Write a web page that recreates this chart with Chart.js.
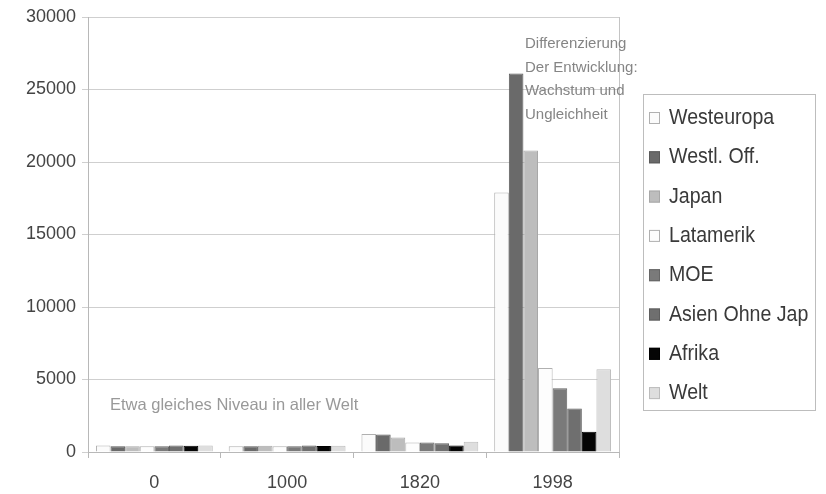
<!DOCTYPE html>
<html>
<head>
<meta charset="utf-8">
<script src="https://cdn.jsdelivr.net/npm/chart.js@4.4.1/dist/chart.umd.min.js"></script>
<style>
  body { margin: 0; background: #ffffff; }
  #wrap { width: 826px; height: 494px; position: relative; }
</style>
</head>
<body>
<div id="wrap"><canvas id="myChart" width="826" height="494"></canvas></div>
<script>
// categories (years)
const years = ['0', '1000', '1820', '1998'];

// series values (BIP pro Kopf)
const westeuropa = [450, 400, 1250, 17900];
const westlOff   = [400, 400, 1200, 26100];
const japan      = [400, 425, 1000, 20800];
const latamerik  = [400, 400, 650, 5800];
const moe        = [400, 400, 650, 4400];
const asien      = [450, 450, 600, 3000];
const afrika     = [430, 420, 450, 1400];
const welt       = [445, 435, 700, 5700];

const seriesNames = ['Westeuropa', 'Westl. Off.', 'Japan', 'Latamerik', 'MOE', 'Asien Ohne Jap', 'Afrika', 'Welt'];
const seriesData = [westeuropa, westlOff, japan, latamerik, moe, asien, afrika, welt];
const seriesColors = ['#fbfbfb', '#6a6a6a', '#bdbdbd', '#fdfdfd', '#7a7a7a', '#6f6f6f', '#050505', '#dedede'];
const seriesBorders = ['#b0b0b0', '#5a5a5a', '#a8a8a8', '#b0b0b0', '#666666', '#5e5e5e', '#000000', '#bcbcbc'];

// y axis ticks
const yMin = 0;
const yMax = 30000;
const yStep = 5000;

// text notes on the chart
const noteRight = ['Differenzierung', 'Der Entwicklung:', 'Wachstum und', 'Ungleichheit'];
const noteLeft = 'Etwa gleiches Niveau in aller Welt';

const plainFont = "'Liberation Sans', Arial, sans-serif";

const datasets = [];
for (let i = 0; i < seriesNames.length; i++) {
    datasets.push({
        label: seriesNames[i],
        data: seriesData[i],
        backgroundColor: seriesColors[i],
        borderColor: seriesBorders[i],
        borderWidth: 1
    });
}

// draws the plot frame, the notes and the legend box
const extrasPlugin = {
    id: 'extras',
    afterDraw(chart) {
        const ctx = chart.ctx;
        const area = chart.chartArea;
        ctx.save();

        // right edge of the plot
        ctx.strokeStyle = '#c4c4c4';
        ctx.lineWidth = 1;
        ctx.beginPath();
        ctx.moveTo(area.right + 0.5, area.top);
        ctx.lineTo(area.right + 0.5, area.bottom);
        ctx.stroke();

        // notes
        ctx.fillStyle = '#858585';
        ctx.font = "15px " + plainFont;
        ctx.textBaseline = 'middle';
        ctx.textAlign = 'left';
        for (let i = 0; i < noteRight.length; i++) {
            ctx.fillText(noteRight[i], 525, 44 + i * 23.5);
        }
        ctx.fillStyle = '#999999';
        ctx.font = "16.5px " + plainFont;
        ctx.fillText(noteLeft, 110, 405);

        // legend
        const lx = 643, ly = 94, lw = 172, lh = 316;
        ctx.fillStyle = '#ffffff';
        ctx.fillRect(lx, ly, lw, lh);
        ctx.strokeStyle = '#bdbdbd';
        ctx.strokeRect(lx + 0.5, ly + 0.5, lw, lh);
        chart.data.datasets.forEach((ds, i) => {
            const cy = 118 + i * 39.3;
            ctx.fillStyle = ds.backgroundColor;
            ctx.fillRect(649, cy - 6, 11, 12);
            ctx.strokeStyle = ds.borderColor;
            ctx.strokeRect(649.5, cy - 5.5, 10, 11);
            // narrow look of the original legend text
            ctx.save();
            ctx.translate(669, cy);
            ctx.scale(0.89, 1);
            ctx.font = "22px " + plainFont;
            ctx.fillStyle = '#3a3a3a';
            ctx.fillText(ds.label, 0, 0);
            ctx.restore();
        });

        ctx.restore();
    }
};

const ctx = document.getElementById('myChart');

const mychartView = new Chart(ctx, {
    type: 'bar',
    data: {
        labels: years,
        datasets: datasets
    },
    options: {
        responsive: false,
        animation: false,
        devicePixelRatio: 1,
        layout: {
            padding: { left: 0, top: 17, right: 207, bottom: 0 }
        },
        datasets: {
            bar: {
                categoryPercentage: 0.88,
                barPercentage: 1.0
            }
        },
        plugins: {
            legend: { display: false },
            tooltip: { enabled: false }
        },
        scales: {
            x: {
                grid: {
                    display: true,
                    drawOnChartArea: false,
                    tickLength: 6,
                    color: '#b8b8b8'
                },
                border: { color: '#b8b8b8' },
                ticks: {
                    color: '#444444',
                    padding: 14,
                    font: { family: plainFont, size: 18 }
                },
                afterFit(scale) { scale.height = 42; }
            },
            y: {
                min: yMin,
                max: yMax,
                grid: {
                    color: '#cfcfcf',
                    tickLength: 6
                },
                border: { color: '#b8b8b8' },
                ticks: {
                    stepSize: yStep,
                    color: '#444444',
                    padding: 6,
                    font: { family: plainFont, size: 18 },
                    callback: (value) => String(value)
                },
                afterFit(scale) { scale.width = 88; }
            }
        }
    },
    plugins: [extrasPlugin]
});
</script>
</body>
</html>
